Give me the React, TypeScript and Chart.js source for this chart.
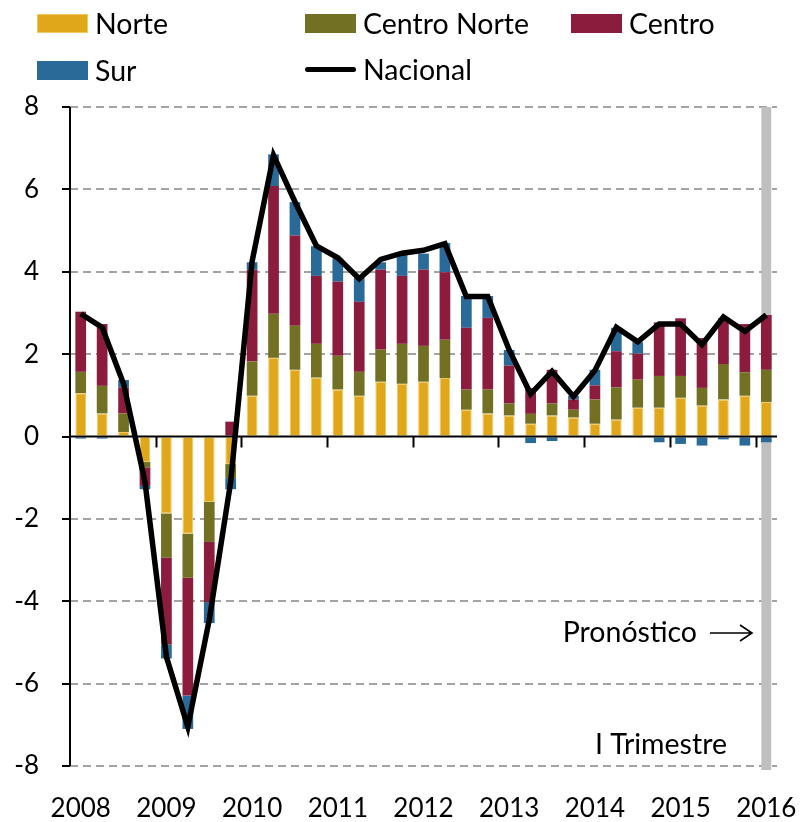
import React, { useEffect, useRef } from 'react';
import { Chart, registerables } from 'chart.js';

Chart.register(...registerables);

// ---------- data ----------
const years = ['2008', '2009', '2010', '2011', '2012', '2013', '2014', '2015', '2016'];
const quarterNames = ['I', 'II', 'III', 'IV'];
const quarters: string[] = [];
years.forEach((y, yi) => {
  quarterNames.forEach((q) => {
    if (yi < years.length - 1 || q === 'I') quarters.push(`${q} ${y}`);
  });
});

const norte = [1.05, 0.56, 0.11, -0.62, -1.87, -2.36, -1.59, -0.67, 0.99, 1.91, 1.62, 1.43, 1.14, 0.99, 1.33, 1.28, 1.33, 1.42, 0.65, 0.56, 0.51, 0.31, 0.51, 0.46, 0.31, 0.41, 0.70, 0.70, 0.94, 0.75, 0.90, 0.99, 0.84];
const centroNorte = [0.52, 0.67, 0.45, -0.13, -1.07, -1.07, -0.97, -0.34, 0.83, 1.07, 1.07, 0.82, 0.82, 0.58, 0.78, 0.97, 0.87, 0.93, 0.49, 0.58, 0.29, 0.24, 0.29, 0.19, 0.59, 0.78, 0.68, 0.77, 0.53, 0.43, 0.86, 0.57, 0.78];
const centro = [1.46, 1.50, 0.63, -0.45, -2.11, -2.86, -1.46, 0.36, 2.23, 3.10, 2.19, 1.65, 1.80, 1.70, 1.94, 1.65, 1.85, 1.64, 1.50, 1.74, 0.92, 0.63, 0.82, 0.25, 0.34, 0.88, 0.63, 1.30, 1.40, 1.21, 1.11, 1.17, 1.33];
const sur = [-0.05, -0.05, 0.18, -0.08, -0.34, -0.81, -0.51, -0.27, 0.18, 0.77, 0.81, 0.72, 0.56, 0.58, 0.18, 0.52, 0.39, 0.71, 0.77, 0.53, 0.38, -0.16, -0.11, 0.09, 0.38, 0.57, 0.28, -0.14, -0.18, -0.22, -0.07, -0.22, -0.14];
const nacional = [2.98, 2.65, 1.28, -1.1, -5.35, -7.05, -4.45, -1.1, 4.25, 6.83, 5.7, 4.63, 4.34, 3.83, 4.3, 4.45, 4.52, 4.68, 3.4, 3.4, 2.1, 1.03, 1.58, 0.97, 1.6, 2.65, 2.3, 2.73, 2.73, 2.23, 2.9, 2.55, 2.95];

const forecastIndex = 32; // I Trimestre 2016
const forecastLabel = 'Pronóstico';
const forecastSub = 'I Trimestre';

// ---------- styles ----------
const FONT = 'Lato, "Open Sans", "DejaVu Sans", sans-serif';
const C_NORTE = '#E1A71A';
const C_NORTE_EDGE = '#F4C860';
const C_CNORTE = '#727023';
const C_CENTRO = '#8C1C3D';
const C_SUR = '#296A99';

const overlayPlugin = {
  id: 'overlay',
  beforeDatasetsDraw(chart: any) {
    const { ctx, chartArea, scales } = chart;
    const x = scales.x;
    const cw = (chartArea.right - chartArea.left) / quarters.length;
    const cx = x.getPixelForValue(forecastIndex);
    const w = cw * 0.46;
    ctx.save();
    ctx.fillStyle = '#BFBFBF';
    ctx.fillRect(cx - w / 2, chartArea.top, w, chartArea.bottom - chartArea.top + 4);
    ctx.restore();
  },
  afterDatasetsDraw(chart: any) {
    const { ctx, chartArea, scales } = chart;
    const y = scales.y;
    const cw = (chartArea.right - chartArea.left) / quarters.length;
    const y0 = y.getPixelForValue(0);
    ctx.save();
    ctx.strokeStyle = '#000';
    ctx.lineWidth = 2;
    // zero line
    ctx.beginPath();
    ctx.moveTo(chartArea.left, y0);
    ctx.lineTo(chartArea.right, y0);
    ctx.stroke();
    // year tick marks
    for (let k = 1; k * 4 < quarters.length; k++) {
      const tx = Math.round(chartArea.left + k * 4 * cw) + 0.5;
      ctx.beginPath();
      ctx.moveTo(tx, y0);
      ctx.lineTo(tx, y0 + 11);
      ctx.stroke();
    }
    // y axis line
    ctx.beginPath();
    ctx.moveTo(chartArea.left, chartArea.top);
    ctx.lineTo(chartArea.left, chartArea.bottom);
    ctx.stroke();

    // annotations
    ctx.fillStyle = '#000';
    ctx.font = `28.5px ${FONT}`;
    ctx.textAlign = 'right';
    ctx.textBaseline = 'alphabetic';
    ctx.fillText(forecastLabel, chartArea.right - 80, y.getPixelForValue(-5.0));
    ctx.fillText(forecastSub, chartArea.right - 50, y.getPixelForValue(-7.7));
    // arrow
    const ay = y.getPixelForValue(-4.77);
    const ax1 = chartArea.right - 67;
    const ax2 = chartArea.right - 25;
    ctx.lineWidth = 1.6;
    ctx.beginPath();
    ctx.moveTo(ax1, ay);
    ctx.lineTo(ax2, ay);
    ctx.moveTo(ax2 - 12, ay - 8);
    ctx.lineTo(ax2, ay);
    ctx.lineTo(ax2 - 12, ay + 8);
    ctx.stroke();
    ctx.restore();
  },
};

const legendItems = [
  { label: 'Norte', color: C_NORTE, kind: 'box', left: 37, top: 23 },
  { label: 'Centro Norte', color: C_CNORTE, kind: 'box', left: 305, top: 23 },
  { label: 'Centro', color: C_CENTRO, kind: 'box', left: 571, top: 23 },
  { label: 'Sur', color: C_SUR, kind: 'box', left: 37, top: 70 },
  { label: 'Nacional', color: '#000', kind: 'line', left: 305, top: 69 },
];

export default function App() {
  const canvasRef = useRef<HTMLCanvasElement | null>(null);

  useEffect(() => {
    if (!canvasRef.current) return;
    const chart = new Chart(canvasRef.current, {
      type: 'bar',
      data: {
        labels: quarters,
        datasets: [
          {
            type: 'line',
            label: 'Nacional',
            data: nacional,
            borderColor: '#000',
            backgroundColor: '#000',
            borderWidth: 5.5,
            pointRadius: 0,
            tension: 0,
            borderJoinStyle: 'miter',
            order: 0,
          } as any,
          {
            label: 'Norte',
            data: norte,
            backgroundColor: C_NORTE,
            borderColor: C_NORTE_EDGE,
            borderWidth: 1,
            order: 1,
          },
          { label: 'Centro Norte', data: centroNorte, backgroundColor: C_CNORTE, borderWidth: 0, order: 1 },
          { label: 'Centro', data: centro, backgroundColor: C_CENTRO, borderWidth: 0, order: 1 },
          { label: 'Sur', data: sur, backgroundColor: C_SUR, borderWidth: 0, order: 1 },
        ],
      },
      options: {
        responsive: false,
        animation: false,
        events: [],
        datasets: { bar: { categoryPercentage: 1, barPercentage: 0.5 } } as any,
        layout: { padding: { top: 107, right: 30, left: 0, bottom: 0 } },
        plugins: { legend: { display: false }, tooltip: { enabled: false }, title: { display: false } },
        scales: {
          x: {
            stacked: true,
            offset: true,
            grid: { display: false, drawTicks: false },
            border: { display: false },
            afterFit: (scale: any) => {
              scale.height = 56;
              scale.paddingLeft = 0;
              scale.paddingRight = 0;
            },
            ticks: {
              autoSkip: false,
              maxRotation: 0,
              minRotation: 0,
              padding: 27,
              color: '#000',
              font: { family: FONT, size: 26 },
              callback: (_v: any, i: number) => (i % 4 === 0 ? years[i / 4] : ''),
            },
          },
          y: {
            stacked: true,
            min: -8,
            max: 8,
            afterFit: (scale: any) => {
              scale.width = 70;
            },
            ticks: {
              stepSize: 2,
              padding: 23,
              color: '#000',
              font: { family: FONT, size: 26 },
            },
            grid: {
              color: (ctx: any) => (ctx.tick && ctx.tick.value === 0 ? 'rgba(0,0,0,0)' : '#A3A3A3'),
              lineWidth: 2,
              tickColor: '#000',
              tickWidth: 2,
              tickLength: 8,
              tickBorderDash: [],
            } as any,
            border: { display: false, dash: [8, 5] },
          },
        },
      },
      plugins: [overlayPlugin],
    });
    return () => chart.destroy();
  }, []);

  return (
    <div style={{ position: 'fixed', left: 0, top: 0, width: 807, height: 822, background: '#fff', fontFamily: FONT }}>
      <canvas ref={canvasRef} width={807} height={822} style={{ position: 'absolute', left: 0, top: 0 }} />
      {legendItems.map((it) => (
        <div
          key={it.label}
          style={{
            position: 'absolute',
            left: it.left,
            top: it.top - 18,
            height: 36,
            display: 'flex',
            alignItems: 'center',
            fontSize: 28.5,
            color: '#000',
            whiteSpace: 'nowrap',
          }}
        >
          {it.kind === 'box' ? (
            <span
              style={{
                display: 'inline-block',
                width: 51,
                height: 19,
                background: it.color,
                boxSizing: 'border-box',
                border: it.label === 'Norte' ? `1.5px solid ${C_NORTE_EDGE}` : 'none',
                marginRight: 7,
              }}
            />
          ) : (
            <span
              style={{
                display: 'inline-block',
                width: 51,
                height: 5,
                borderRadius: 3,
                background: it.color,
                marginRight: 7,
              }}
            />
          )}
          <span>{it.label}</span>
        </div>
      ))}
    </div>
  );
}
